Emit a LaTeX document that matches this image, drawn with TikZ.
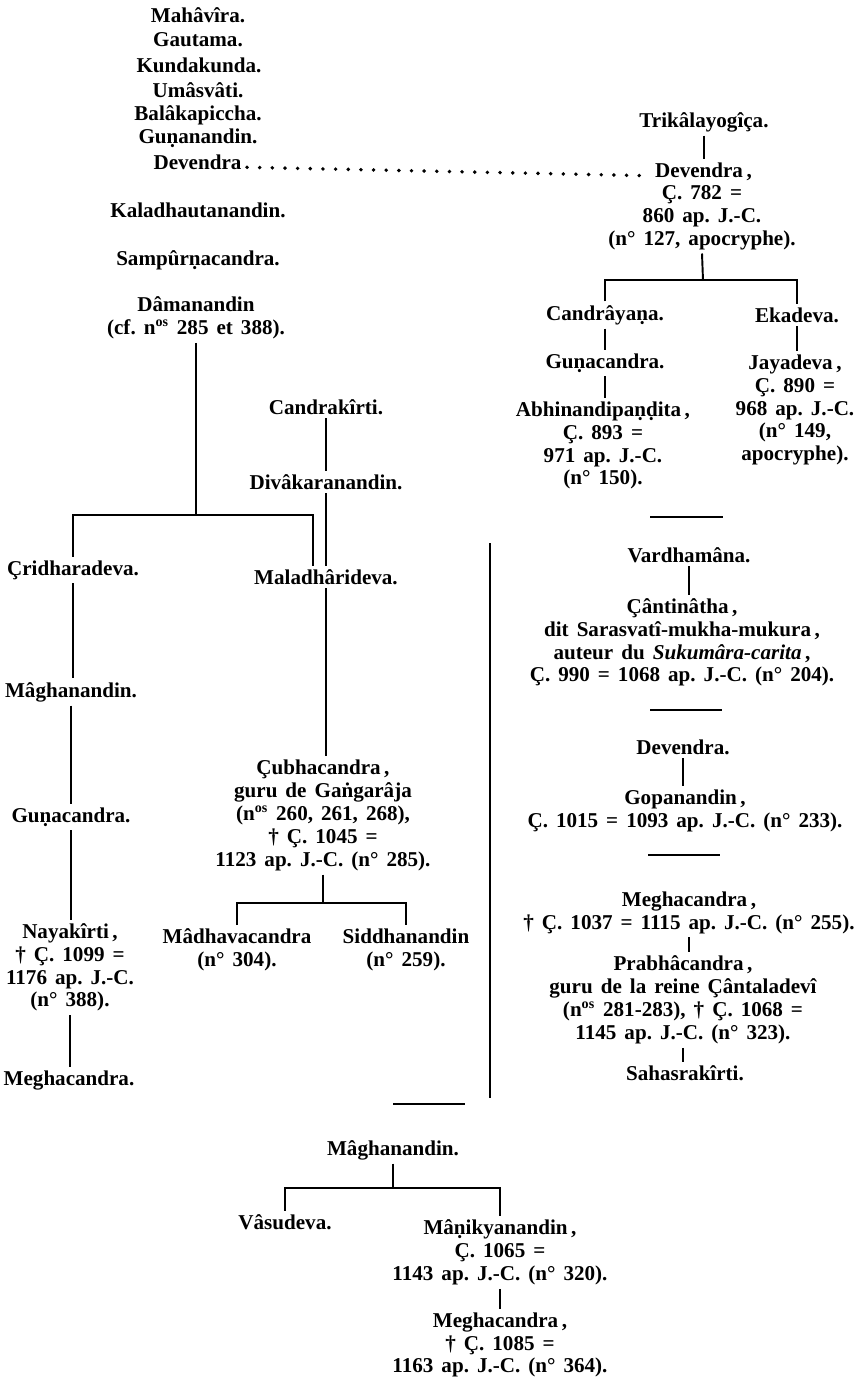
\documentclass[tikz,border=0pt]{standalone}
\usepackage{fontspec}
\setmainfont{Liberation Serif}
\frenchspacing
\newcommand\widespaces{\spaceskip=0.38em plus 0.1em minus 0.05em\relax}

\begin{document}
\begin{tikzpicture}[
    entry/.style={font=\fontsize{12pt}{13pt}\selectfont\bfseries\widespaces, align=center, inner sep=2pt},
    link/.style={line width=1.1pt},
    leader/.style={line width=2.2pt, line cap=round, dash pattern=on 0pt off 7.2pt},
    sepline/.style={line width=1.2pt}
]
    \useasboundingbox (0,0) rectangle (17.24,-27.7);

    % Left column: the list of teachers
    \node[entry] (mahavira) at (3.96,-0.30) {Mahâvîra.};
    \node[entry] (gautama) at (3.96,-0.80) {Gautama.};
    \node[entry] (kunda) at (3.98,-1.30) {Kundakunda.};
    \node[entry] (umas) at (3.96,-1.80) {Umâsvâti.};
    \node[entry] (bala) at (3.96,-2.30) {Balâkapiccha.};
    \node[entry] (gunanL) at (3.96,-2.76) {Guṇanandin.};
    \node[entry] (devL) at (3.95,-3.24) {Devendra};
    \node[entry] (kala) at (3.96,-4.20) {Kaladhautanandin.};
    \node[entry] (sampu) at (3.96,-5.20) {Sampûrṇacandra.};
    \node[entry] (dama) at (3.92,-6.36) {Dâmanandin\\(cf. n\textsuperscript{os} 285 et 388).};

    \node[entry] (candk) at (6.52,-8.14) {Candrakîrti.};
    \node[entry] (divak) at (6.52,-9.64) {Divâkaranandin.};
    \node[entry] (crid) at (1.46,-11.40) {Çridharadeva.};
    \node[entry] (mal) at (6.52,-11.54) {Maladhârideva.};
    \node[entry] (magL) at (1.42,-13.84) {Mâghanandin.};
    \node[entry] (gunaL) at (1.42,-16.34) {Guṇacandra.};
    \node[entry] (naya) at (1.40,-19.35) {Nayakîrti\,,\\† Ç. 1099 =\\1176 ap. J.-C.\\(n° 388).};
    \node[entry] (meghL) at (1.38,-21.60) {Meghacandra.};
    \node[entry] (cubha) at (6.46,-16.31) {Çubhacandra\,,\\guru de Gaṅgarâja\\(n\textsuperscript{os} 260, 261, 268),\\† Ç. 1045 =\\1123 ap. J.-C. (n° 285).};
    \node[entry] (madh) at (4.74,-19.00) {Mâdhavacandra\\(n° 304).};
    \node[entry] (sidd) at (8.12,-19.00) {Siddhanandin\\(n° 259).};

    % Right column, upper tree
    \node[entry] (trik) at (14.08,-2.44) {Trikâlayogîça.};
    \node[entry] (devRn) at (14.07,-3.44) {Devendra\,,};
    \node[entry] (devRd) at (14.04,-4.35) {Ç. 782 =\\860 ap. J.-C.\\(n° 127, apocryphe).};
    \node[entry] (cand) at (12.10,-6.30) {Candrâyaṇa.};
    \node[entry] (eka) at (15.94,-6.30) {Ekadeva.};
    \node[entry] (gunaR) at (12.10,-7.26) {Guṇacandra.};
    \node[entry] (abhi) at (12.06,-8.91) {Abhinandipaṇḍita\,,\\Ç. 893 =\\971 ap. J.-C.\\(n° 150).};
    \node[entry] (jaya) at (15.90,-8.20) {Jayadeva\,,\\Ç. 890 =\\968 ap. J.-C.\\(n° 149,\\apocryphe).};

    % Right column, lower groups
    \node[entry] (vard) at (13.78,-11.10) {Vardhamâna.};
    \node[entry] (cant) at (13.64,-12.85) {Çântinâtha\,,\\dit Sarasvatî-mukha-mukura\,,\\auteur du \textit{Sukumâra-carita}\,,\\Ç. 990 = 1068 ap. J.-C. (n° 204).};
    \node[entry] (devB) at (13.66,-14.94) {Devendra.};
    \node[entry] (gopa) at (13.70,-16.22) {Gopanandin\,,\\Ç. 1015 = 1093 ap. J.-C. (n° 233).};
    \node[entry] (meghR) at (13.78,-18.25) {Meghacandra\,,\\† Ç. 1037 = 1115 ap. J.-C. (n° 255).};
    \node[entry] (prabha) at (13.66,-20.00) {Prabhâcandra\,,\\guru de la reine Çântaladevî\\(n\textsuperscript{os} 281-283), † Ç. 1068 =\\1145 ap. J.-C. (n° 323).};
    \node[entry] (sahas) at (13.70,-21.46) {Sahasrakîrti.};

    % Bottom tree
    \node[entry] (magB) at (7.86,-23.00) {Mâghanandin.};
    \node[entry] (vasu) at (5.70,-24.44) {Vâsudeva.};
    \node[entry] (mani) at (10.00,-25.05) {Mâṇikyanandin\,,\\Ç. 1065 =\\1143 ap. J.-C. (n° 320).};
    \node[entry] (meghB) at (10.00,-26.90) {Meghacandra\,,\\† Ç. 1085 =\\1163 ap. J.-C. (n° 364).};

    % Branch points
    \coordinate (rbar) at (14.06,-5.60);
    \coordinate (lbar) at (3.90,-10.30);
    \coordinate (cbar) at (6.46,-18.06);
    \coordinate (bbar) at (7.86,-23.76);

    % Leader dots between the two Devendra
    \draw[leader] ([xshift=1pt,yshift=1.1pt]devL.base east) -- ([xshift=-1pt,yshift=1.1pt]devRn.base west);

    % Lines of descent
    \draw[link] (trik.south) -- (trik.south |- devRn.north);
    \draw[link] (devRd.south) -- (rbar);
    \draw[link] (cand.north) |- (rbar) -| (eka.north);
    \draw[link] (cand.south) -- (cand.south |- gunaR.north);
    \draw[link] (gunaR.south) -- (gunaR.south |- abhi.north);
    \draw[link] (eka.south) -- (eka.south |- jaya.north);

    \draw[link] (dama.south) -- (dama.south |- lbar);
    \draw[link] (crid.north) |- (lbar) -| ([xshift=-0.26cm]mal.north);
    \draw[link] (candk.south) -- (candk.south |- divak.north);
    \draw[link] (divak.south) -- (divak.south |- mal.north);
    \draw[link] (mal.south) -- (mal.south |- cubha.north);
    \draw[link] (cubha.south) -- (cbar);
    \draw[link] (madh.north) |- (cbar) -| (sidd.north);
    \draw[link] (crid.south) -- (crid.south |- magL.north);
    \draw[link] (magL.south) -- (magL.south |- gunaL.north);
    \draw[link] (gunaL.south) -- (gunaL.south |- naya.north);
    \draw[link] (naya.south) -- (naya.south |- meghL.north);

    \draw[link] (vard.south) -- (vard.south |- cant.north);
    \draw[link] (devB.south) -- (devB.south |- gopa.north);
    \draw[link] (meghR.south) -- (meghR.south |- prabha.north);
    \draw[link] (prabha.south) -- (prabha.south |- sahas.north);

    \draw[link] (magB.south) -- (bbar);
    \draw[link] (vasu.north) |- (bbar) -| (mani.north);
    \draw[link] (mani.south) -- (mani.south |- meghB.north);

    % Separating rules
    \draw[sepline, line width=1.4pt] (9.80,-10.86) -- (9.80,-21.96);
    \draw[sepline] (13.00,-10.34) -- (14.46,-10.34);
    \draw[sepline] (13.00,-14.20) -- (14.44,-14.20);
    \draw[sepline] (12.96,-17.10) -- (14.40,-17.10);
    \draw[sepline] (7.86,-22.08) -- (9.30,-22.08);

\end{tikzpicture}
\end{document}
